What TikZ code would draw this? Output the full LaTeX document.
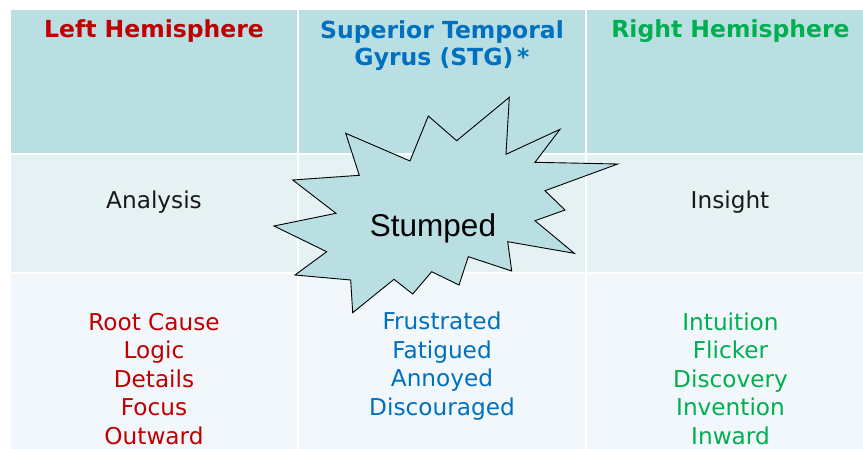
\documentclass[tikz,border=0pt]{standalone}
\usepackage{fontspec}
\setmainfont{DejaVu Sans}
\newfontfamily\arialfont{Liberation Sans}
\definecolor{hdrfill}{HTML}{B9DFE3}
\definecolor{midfill}{HTML}{E5F1F3}
\definecolor{lowfill}{HTML}{F1F7FA}
\definecolor{lred}{HTML}{C00000}
\definecolor{lblue}{HTML}{0070C0}
\definecolor{lgreen}{HTML}{00B050}
\tikzset{
  cell/.style={draw=none},
  hdr/.style={anchor=base, inner sep=0pt, font=\fontsize{23.5}{27}\selectfont\bfseries},
  body/.style={anchor=base, inner sep=0pt, font=\fontsize{23.2}{28}\selectfont},
}
\begin{document}
\begin{tikzpicture}[x=1pt,y=-1pt]
\useasboundingbox (0,0) rectangle (863,448);
\clip (0,0) rectangle (863,448);
\fill[white] (0,0) rectangle (863,448);
% header row
\fill[hdrfill] (11,10) rectangle (297,153);
\fill[hdrfill] (299,10) rectangle (585,153);
\fill[hdrfill] (587,10) rectangle (873,153);
% middle row
\fill[midfill] (11,155) rectangle (297,272);
\fill[midfill] (299,155) rectangle (585,272);
\fill[midfill] (587,155) rectangle (873,272);
% lower row
\fill[lowfill] (11,274) rectangle (297,460);
\fill[lowfill] (299,274) rectangle (585,460);
\fill[lowfill] (587,274) rectangle (873,460);
% headers
\node[hdr, text=lred] (hl) at (154,37.7) {Left Hemisphere};
\node[hdr, text=lblue] (hm1) at (442,38.3) {Superior Temporal};
\node[hdr, text=lblue] (hm2) at (442,65) {Gyrus (STG)\,*};
\node[hdr, text=lgreen] (hr) at (730.5,37.7) {Right Hemisphere};
% middle row text
\node[body, text=black!90] (an) at (154,208.3) {Analysis};
\node[body, text=black!90] (in) at (730,208.3) {Insight};
% left column
\node[body, text=lred] (l1) at (154,330) {Root Cause};
\node[body, text=lred] (l2) at (154,358.5) {Logic};
\node[body, text=lred] (l3) at (154,387) {Details};
\node[body, text=lred] (l4) at (154,415.5) {Focus};
\node[body, text=lred] (l5) at (154,444) {Outward};
% middle column
\node[body, text=lblue] (m1) at (442,329.5) {Frustrated};
\node[body, text=lblue] (m2) at (442,358.2) {Fatigued};
\node[body, text=lblue] (m3) at (442,386.7) {Annoyed};
\node[body, text=lblue] (m4) at (442,415) {Discouraged};
% right column
\node[body, text=lgreen] (r1) at (730.5,330) {Intuition};
\node[body, text=lgreen] (r2) at (730.5,358.5) {Flicker};
\node[body, text=lgreen] (r3) at (730.5,387) {Discovery};
\node[body, text=lgreen] (r4) at (730.5,415.5) {Invention};
\node[body, text=lgreen] (r5) at (730.5,444) {Inward};
% starburst
\draw[fill=hdrfill, draw=black, line width=0.9pt, line join=miter]
  (509.3,97.3) -- (506,154.3) -- (560,129.3) -- (535,162.3) -- (617.7,164)
  -- (545,190.7) -- (565,210) -- (535,220.7) -- (574.3,253.3) -- (507.7,241.7)
  -- (511.7,271) -- (468.3,256.7) -- (459,285) -- (431.7,271.7) -- (412.7,294)
  -- (394,279.3) -- (352.7,312.7) -- (350.7,280) -- (295,275) -- (326.7,251.7)
  -- (274,226) -- (336,213.3) -- (292.7,180) -- (359.3,175.3) -- (345.7,133.3)
  -- (410,161) -- (428.3,116) -- (456.7,140.7) -- cycle;
\node[anchor=base, inner sep=0pt, font=\arialfont\fontsize{31.5}{36}\selectfont] (st) at (433,236) {Stumped};
\end{tikzpicture}
\end{document}
